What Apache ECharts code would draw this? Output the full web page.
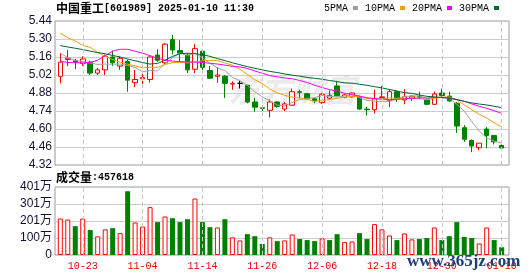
<!DOCTYPE html>
<html><head><meta charset="utf-8">
<script src="https://cdn.jsdelivr.net/npm/echarts/dist/echarts.min.js"></script>
<style>html,body{margin:0;padding:0;background:#fff}#c{width:530px;height:276px}</style>
</head><body><div id="c"></div>
<script>
const stockName = '中国重工';
const stockCode = '601989';
const stamp = '2025-01-10 11:30';
const dates = ['10-18','10-21','10-22','10-23','10-24','10-25','10-28','10-29','10-30','10-31',
  '11-01','11-04','11-05','11-06','11-07','11-08','11-11','11-12','11-13','11-14',
  '11-15','11-18','11-19','11-20','11-21','11-22','11-25','11-26','11-27','11-28',
  '11-29','12-02','12-03','12-04','12-05','12-06','12-09','12-10','12-11','12-12',
  '12-13','12-16','12-17','12-18','12-19','12-20','12-23','12-24','12-25','12-26',
  '12-27','12-30','12-31','01-02','01-03','01-06','01-07','01-08','01-09','01-10'];
const tickLabels = ['10-23','11-04','11-14','11-26','12-06','12-18','12-30','01-10'];
const open = [5.01,5.14,5.13,5.11,5.12,5.035,5.06,5.16,5.09,5.125,
  4.96,4.99,4.985,5.175,5.115,5.295,5.21,5.175,5.065,5.205,
  5.055,5.01,5.01,4.95,4.955,4.94,4.81,4.765,4.745,4.81,
  4.755,4.785,4.89,4.875,4.835,4.805,4.84,4.935,4.845,4.85,
  4.85,4.755,4.75,4.845,4.82,4.89,4.826,4.84,4.853,4.826,
  4.792,4.88,4.855,4.80,4.61,4.51,4.455,4.60,4.55,4.472];
const close = [5.12,5.15,5.12,5.145,5.035,5.06,5.165,5.115,5.15,4.98,
  4.985,5.00,5.16,5.135,5.26,5.215,5.19,5.06,5.225,5.08,
  4.995,5.02,4.955,4.955,4.955,4.81,4.77,4.76,4.81,4.775,
  4.795,4.89,4.885,4.835,4.82,4.87,4.862,4.858,4.865,4.88,
  4.755,4.75,4.835,4.85,4.89,4.84,4.85,4.855,4.85,4.792,
  4.872,4.86,4.818,4.623,4.52,4.468,4.49,4.55,4.50,4.452];
const low = [4.955,5.09,5.065,5.09,5.02,5.02,5.02,5.09,5.06,4.89,
  4.925,4.94,4.96,5.12,5.10,5.18,5.12,5.035,5.035,5.05,
  4.99,4.96,4.84,4.905,4.915,4.80,4.735,4.74,4.69,4.765,
  4.74,4.78,4.84,4.825,4.80,4.795,4.83,4.855,4.84,4.845,
  4.75,4.705,4.72,4.84,4.77,4.81,4.792,4.818,4.831,4.785,
  4.787,4.85,4.813,4.57,4.50,4.42,4.435,4.45,4.48,4.437];
const high = [5.19,5.215,5.145,5.165,5.13,5.075,5.18,5.21,5.165,5.14,
  5.06,5.06,5.165,5.22,5.27,5.33,5.29,5.19,5.26,5.215,
  5.09,5.08,5.02,4.97,4.975,4.945,4.84,4.78,4.83,4.815,
  4.81,4.915,4.905,4.88,4.84,4.88,4.90,4.975,4.87,4.885,
  4.86,4.775,4.905,4.935,4.91,4.90,4.909,4.862,4.89,4.83,
  4.89,4.914,4.89,4.81,4.63,4.52,4.49,4.615,4.55,4.48];
// volume in 万 (10k shares)
const volume = [215,209,170,215,147,110,151,158,129,376,
  192,168,282,194,227,217,194,211,333,194,
  164,162,211,104,86,123,111,65,104,82,
  86,121,94,88,82,98,88,123,76,80,
  129,94,182,151,115,88,127,92,94,100,
  162,88,111,194,106,100,68,162,88,45.7618];
const ma5 = [5.19,5.155,5.134,5.124,5.114,5.102,5.105,5.104,5.105,5.094,
  5.079,5.046,5.055,5.052,5.108,5.154,5.192,5.172,5.19,5.154,
  5.11,5.076,5.055,5.001,4.976,4.939,4.889,4.85,4.821,4.785,
  4.782,4.806,4.831,4.836,4.845,4.86,4.854,4.849,4.855,4.867,
  4.844,4.822,4.817,4.814,4.816,4.833,4.853,4.857,4.857,4.837,
  4.844,4.846,4.838,4.793,4.739,4.658,4.584,4.53,4.506,4.492];
const ma10 = [5.345,5.31,5.285,5.25,5.235,5.195,5.165,5.14,5.12,5.104,
  5.091,5.076,5.08,5.079,5.101,5.117,5.119,5.114,5.121,5.131,
  5.132,5.134,5.114,5.096,5.065,5.025,4.983,4.953,4.911,4.881,
  4.861,4.848,4.841,4.829,4.815,4.821,4.83,4.84,4.846,4.856,
  4.852,4.838,4.833,4.835,4.842,4.839,4.837,4.837,4.836,4.827,
  4.838,4.849,4.848,4.825,4.788,4.751,4.715,4.684,4.649,4.615];
const ma20 = [5.125,5.118,5.115,5.115,5.118,5.135,5.17,5.205,5.22,5.22,
  5.205,5.19,5.17,5.15,5.135,5.128,5.124,5.122,5.12,5.118,
  5.111,5.105,5.097,5.087,5.083,5.071,5.051,5.033,5.016,5.006,
  4.996,4.991,4.977,4.962,4.94,4.923,4.906,4.896,4.878,4.868,
  4.856,4.843,4.837,4.832,4.828,4.83,4.834,4.839,4.841,4.841,
  4.845,4.844,4.84,4.83,4.815,4.795,4.776,4.761,4.742,4.721];
const ma30 = [5.248,5.238,5.228,5.218,5.205,5.195,5.185,5.172,5.16,5.145,
  5.13,5.117,5.105,5.11,5.135,5.165,5.185,5.19,5.185,5.178,
  5.165,5.148,5.132,5.115,5.1,5.085,5.072,5.06,5.048,5.039,
  5.028,5.019,5.011,5.001,4.994,4.987,4.977,4.969,4.959,4.956,
  4.948,4.94,4.929,4.92,4.907,4.895,4.883,4.877,4.864,4.854,
  4.85,4.845,4.84,4.829,4.815,4.803,4.794,4.787,4.777,4.766];
const maNames = ['5PMA','10PMA','20PMA','30PMA'];

const RED = '#ff0000', GREEN = '#008000';
const maColors = ['#a0a0a0','#f0a000','#ff00ff','#006633'];
const tickIdx = tickLabels.map(t => dates.indexOf(t));

const kData = dates.map((d, i) => {
  const item = { value: [i, open[i], close[i], low[i], high[i]] };
  if (open[i] === close[i]) item.itemStyle = { color: '#000', color0: '#000', borderColor: '#000', borderColor0: '#000' };
  return item;
});
const volData = volume.map((v, i) => {
  const up = i === 0 ? close[0] >= open[0] : close[i] >= close[i - 1];
  return { value: [i, v], itemStyle: up ? { color: '#fff', borderColor: RED, borderWidth: 1 } : { color: GREEN, borderColor: GREEN, borderWidth: 0 } };
});
const X_MIN = -0.71, X_MAX = 59.98;
const lastVol = Math.round(volume[volume.length - 1] * 10000);
const mono = 'Liberation Mono';
const cjk = 'Noto Sans CJK SC';
function vLines() {
  return {
    silent: true, symbol: ['none', 'none'], label: { show: false }, animation: false,
    lineStyle: { color: '#c8c8c8', type: [4, 3], width: 1 },
    data: tickIdx.map(i => ({ xAxis: i }))
  };
}
// invisible carrier series for the vertical dashed date lines (drawn beneath the marks)
function gridLineSeries(xi, yi, yVal) {
  return { type: 'line', xAxisIndex: xi, yAxisIndex: yi, z: 1, silent: true, symbol: 'none',
    data: tickIdx.map(i => [i, yVal]), lineStyle: { opacity: 0, width: 0 }, markLine: vLines() };
}

const chart = echarts.init(document.getElementById('c'), null, { renderer: 'canvas' });
chart.setOption({
  animation: false,
  backgroundColor: '#fff',
  title: [
    { text: '{a|' + stockName + '}{b|[' + stockCode + '] ' + stamp + '}', left: 56, top: 1, padding: 0,
      textStyle: { rich: { a: { fontFamily: cjk, fontSize: 12, color: '#000', lineHeight: 14 }, b: { fontFamily: mono, fontSize: 10, color: '#000', lineHeight: 14 } } } },
    { text: '{a|成交量}{b|:' + lastVol + '}', left: 56, top: 170, padding: 0,
      textStyle: { rich: { a: { fontFamily: cjk, fontSize: 12, color: '#000', lineHeight: 14 }, b: { fontFamily: mono, fontSize: 10, color: '#000', lineHeight: 14 } } } }
  ],
  legend: {
    data: maNames, left: 324, top: 3, align: 'right', icon: 'rect', itemWidth: 5, itemHeight: 4, itemGap: 7,
    selectedMode: false, padding: 0,
    textStyle: { fontFamily: mono, fontSize: 10, color: '#000' }
  },
  grid: [
    { left: 55, top: 21, width: 454, height: 144, show: true, borderColor: '#999', borderWidth: 1, backgroundColor: 'transparent' },
    { left: 55, top: 187, width: 454, height: 68, show: true, borderColor: '#999', borderWidth: 1, backgroundColor: 'transparent' }
  ],
  xAxis: [
    { type: 'value', gridIndex: 0, min: X_MIN, max: X_MAX, axisLine: { show: false },
      axisTick: { show: false }, axisLabel: { show: false }, splitLine: { show: false } },
    { type: 'value', gridIndex: 1, min: X_MIN, max: X_MAX, axisLine: { show: false },
      axisTick: { show: false }, splitLine: { show: false },
      axisLabel: { show: true, customValues: tickIdx, formatter: v => dates[Math.round(v)], color: '#ee0000', fontFamily: mono, fontSize: 10, margin: 6 } }
  ],
  yAxis: [
    { type: 'value', gridIndex: 0, min: 4.32, max: 5.44, interval: 0.14, axisLine: { show: false }, axisTick: { show: false },
      axisLabel: { formatter: v => v.toFixed(2), color: '#111133', fontFamily: 'Liberation Sans', fontSize: 12, margin: 3 },
      splitLine: { lineStyle: { color: '#cccccc', width: 1 } } },
    { type: 'value', gridIndex: 1, min: 0, max: 401, interval: 100.25, axisLine: { show: false }, axisTick: { show: false },
      axisLabel: { formatter: v => v === 0 ? '0' : Math.round(v) + '万', color: '#111133', fontFamily: 'Liberation Sans, ' + cjk, fontSize: 12, margin: 3 },
      splitLine: { lineStyle: { color: '#cccccc', width: 1 } } }
  ],
  graphic: [
    { type: 'text', left: 228, top: 74, z: -10, silent: true,
      style: { text: '东方财富', font: 'bold italic 32px "Noto Sans CJK SC"', fill: '#ebebeb' } },
    { type: 'text', left: 407, top: 253, z: 100, silent: true,
      style: { text: 'www.365jz.com', font: 'bold 17px "Liberation Serif"', fill: '#1f3d7a' } }
  ],
  series: [
    gridLineSeries(0, 0, 4.32),
    gridLineSeries(1, 1, 0),
    { type: 'candlestick', name: 'K', xAxisIndex: 0, yAxisIndex: 0, data: kData, encode: { x: 0, y: [1, 2, 3, 4] },
      barWidth: 5, silent: true, z: 2,
      itemStyle: { color: '#fff', color0: GREEN, borderColor: RED, borderColor0: GREEN, borderWidth: 1 } },
    ...[ma5, ma10, ma20, ma30].map((arr, k) => ({
      type: 'line', name: maNames[k], xAxisIndex: 0, yAxisIndex: 0, data: arr.map((v, i) => [i, v]),
      showSymbol: false, symbol: 'none', silent: true, color: maColors[k], lineStyle: { width: 1, color: maColors[k] }, z: 3
    })),
    { type: 'bar', name: 'VOL', xAxisIndex: 1, yAxisIndex: 1, data: volData, barWidth: 5, silent: true, z: 2 }
  ]
});
</script></body></html>
